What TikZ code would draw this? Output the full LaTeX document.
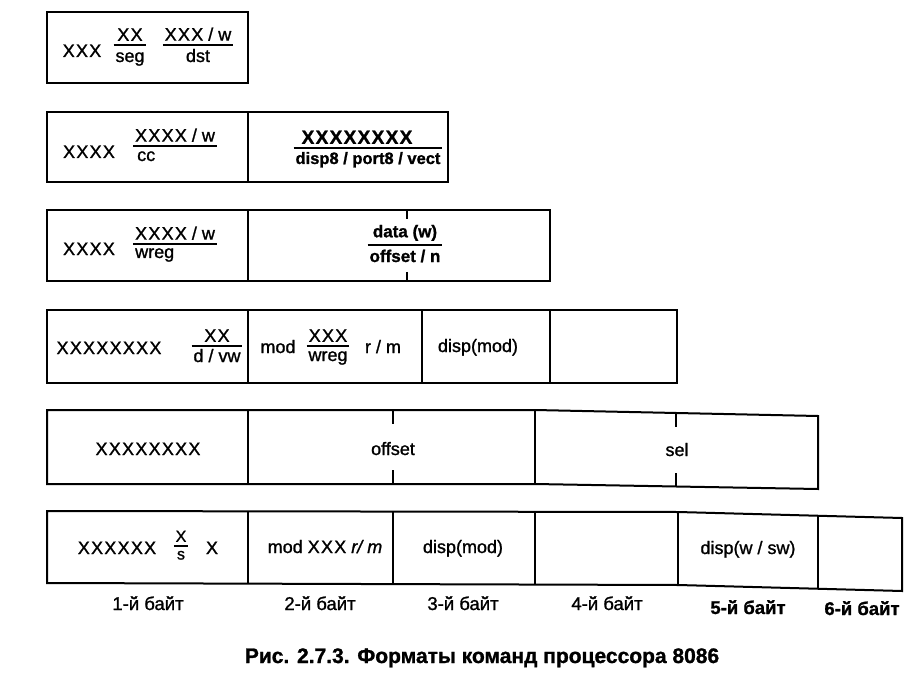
\documentclass[tikz,border=0pt]{standalone}
\usepackage{fontspec}
\setmainfont{Liberation Sans}[FakeBold=1.2]
\usetikzlibrary{fit}
\newcommand\fs{\fontsize{18}{21}\selectfont}
\newcommand\xs[1]{{\addfontfeature{LetterSpace=7}#1}}
% fraction: name, x, bar y, numerator, denominator, den x, den anchor, den baseline offset
\newcommand\frc[8]{%
  \coordinate (#1b) at (#2,#3);
  \node[t,anchor=south] (#1n) at (#2,#3-4) {#4};
  \node[t,anchor=#7] (#1d) at (#6,#3+#8) {#5};
  \node[fit=(#1n)(#1d),inner sep=1.5pt] (#1f) {};
  \draw[bar] (#1f.west |- #1b) -- (#1f.east |- #1b);}
\begin{document}
\begin{tikzpicture}[x=1pt,y=-1pt,
  cell/.style={draw=black,line width=2pt,line join=miter},
  bar/.style={draw=black,line width=1.7pt},
  t/.style={inner sep=0pt,font=\fs},
  lbl/.style={inner sep=0pt,font=\fontsize{18.5}{21}\selectfont,anchor=base},
  captxt/.style={inner sep=0pt,font=\fontsize{21}{25}\selectfont\bfseries,anchor=base}]
\useasboundingbox (0,0) rectangle (923,676);
% ---------- row 1
\draw[cell] (47,12) rectangle (248,83);
\node[t,anchor=base] (r1a) at (82,57) {\xs{XXX}};
\frc{r1f}{130}{45}{\xs{XX}}{seg}{130}{base}{17}
\frc{r1g}{198}{45}{\xs{XXX} / w}{dst}{198}{base}{17}
% ---------- row 2
\draw[cell] (47,112) rectangle (248,182);
\draw[cell] (248,112) rectangle (448,182);
\node[t,anchor=base] (r2a) at (89,158) {\xs{XXXX}};
\frc{r2f}{175}{146}{\xs{XXXX} / w}{cc}{137}{base west}{15}
\begin{scope}[t/.style={inner sep=0pt,font=\fontsize{16.5}{19}\selectfont\bfseries}]
\frc{r2g}{357}{148}{\fontsize{19}{22}\selectfont\xs{XXXXXXXX}}{disp8 / port8 / vect}{368}{base}{16}
\end{scope}
% ---------- row 3
\draw[cell] (47,210) rectangle (248,281);
\draw[cell] (248,210) rectangle (550,281);
\draw[cell] (407,210) -- (407,219);
\draw[cell] (407,272) -- (407,281);
\node[t,anchor=base] (r3a) at (89,255) {\xs{XXXX}};
\frc{r3f}{175}{244}{\xs{XXXX} / w}{wreg}{135}{base west}{14}
\begin{scope}[t/.style={inner sep=0pt,font=\fontsize{17}{20}\selectfont\bfseries}]
\frc{r3g}{405}{245}{data (w)}{offset / n}{405}{base}{17}
\end{scope}
% ---------- row 4
\draw[cell] (47,310) rectangle (677,383);
\draw[cell] (248,310) -- (248,383);
\draw[cell] (422,310) -- (422,383);
\draw[cell] (550,310) -- (550,383);
\node[t,anchor=base] (r4a) at (109,354) {\xs{XXXXXXXX}};
\frc{r4f}{217}{346}{\xs{XX}}{d / vw}{217}{base}{16}
\node[t,anchor=base] (r4m) at (278,353) {mod};
\frc{r4g}{328}{346}{\xs{XXX}}{wreg}{328}{base}{15}
\node[t,anchor=base] (r4r) at (383,353) {r / m};
\node[t,anchor=base] (r4d) at (478,352) {disp(mod)};
% ---------- row 5
\draw[cell] (47,410) -- (535,410) -- (818,416) -- (818,489) -- (535,484) -- (47,484) -- cycle;
\draw[cell] (248,410) -- (248,484);
\draw[cell] (535,410) -- (535,484);
\draw[cell] (393,410) -- (393,424);
\draw[cell] (393,470) -- (393,484);
\draw[cell] (676,413) -- (676,427);
\draw[cell] (676,473) -- (676,487);
\node[t,anchor=base] (r5a) at (148,455) {\xs{XXXXXXXX}};
\node[t,anchor=base] (r5b) at (393,455) {offset};
\node[t,anchor=base] (r5c) at (677,456) {sel};
% ---------- row 6
\draw[cell] (47,511) -- (678,512) -- (902,518) -- (902,591) -- (678,585) -- (47,583) -- cycle;
\draw[cell] (248,511.3) -- (248,583.5);
\draw[cell] (393,511.5) -- (393,584);
\draw[cell] (535,511.8) -- (535,584.5);
\draw[cell] (678,512) -- (678,585);
\draw[cell] (818,515.7) -- (818,588.7);
\node[t,anchor=base] (r6a) at (117,554) {\xs{XXXXXX}};
\begin{scope}[t/.style={inner sep=0pt,font=\fontsize{16}{18}\selectfont},
  bar/.style={draw=black,line width=1.5pt}]
\frc{r6f}{181}{546}{X}{s}{181}{base}{13.5}
\end{scope}
\node[t,anchor=base] (r6x) at (212,554) {X};
\node[t,anchor=base] (r6b) at (325,553) {mod \xs{XXX} \textit{r/ m}};
\node[t,anchor=base] (r6c) at (463,553) {disp(mod)};
\node[t,anchor=base] (r6d) at (748,554) {disp(w / sw)};
% ---------- labels
\node[lbl] (l1) at (148,610) {1-й байт};
\node[lbl] (l2) at (320,610) {2-й байт};
\node[lbl] (l3) at (463,610) {3-й байт};
\node[lbl] (l4) at (607,610) {4-й байт};
\node[lbl,font=\fontsize{18.5}{21}\selectfont\bfseries] (l5) at (748,614) {5-й байт};
\node[lbl,font=\fontsize{18.5}{21}\selectfont\bfseries] (l6) at (862,615) {6-й байт};
% ---------- caption
\node[captxt] (captn) at (482,663) {Рис. 2.7.3. Форматы команд процессора 8086};
\end{tikzpicture}
\end{document}
